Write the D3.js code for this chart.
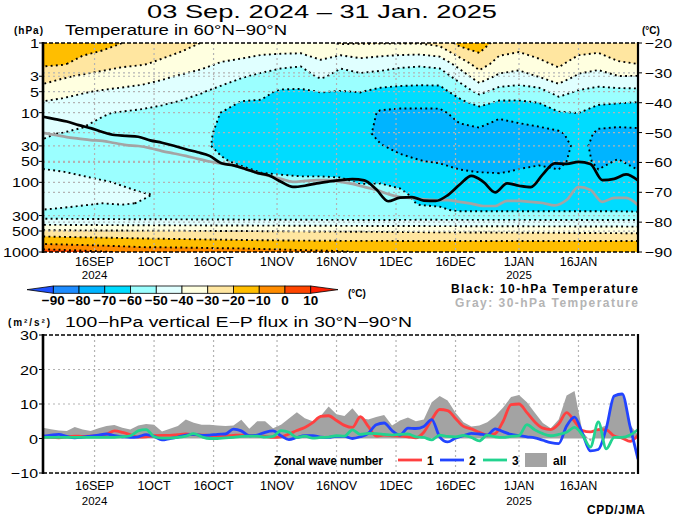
<!DOCTYPE html>
<meta charset="utf-8">
<head>
  <title>Temperature and E-P flux, 60N-90N</title>
</head>

<style>
body { margin: 0; background: white; }
text {
  font-family: "Liberation Sans", Arial, sans-serif;
  fill: black;
}
.num { font-size: 13px; }
.bold { font-weight: bold; }
.grid {
  fill: none;
  stroke: #b3b3b3;
  stroke-width: 1.2;
  stroke-dasharray: 2,3;
}
.iso {
  fill: none;
  stroke: black;
  stroke-width: 1.9;
  stroke-dasharray: 1.9,3.3;
}
</style>

<body>
  <svg width="680" height="521"></svg>

  <script src="https://cdnjs.cloudflare.com/ajax/libs/d3/7.8.5/d3.min.js"></script>
  <script>

// pressure levels of the temperature grid (hPa)
var levels = [1, 2, 3, 5, 7, 10, 20, 30, 50, 70, 100, 150, 200, 250, 300, 400, 500, 600, 700, 850, 1000];
// grid columns, days after 3 Sep 2024
var gridDays = [0, 5, 10, 15, 20, 25, 30, 35, 40, 45, 50, 55, 60, 65, 70, 75, 80, 85, 90, 95, 100, 105, 110, 115, 120, 125, 130, 135, 140, 145, 150];

// zonal mean temperature 60N-90N (deg C), one row per level
var tempGrid = [
  [-13,-14.5,-15.5,-16.5,-20,-23,-25,-26.5,-30.3,-32,-32.5,-33,-32,-31.5,-32,-29,-29.5,-29.5,-29.5,-29.5,-27,-17,-15,-24,-25.5,-23,-23,-23.5,-24.5,-21,-23.5],
  [-18.7,-19.3,-22.9,-26.3,-28.4,-29.4,-31.7,-35.2,-37.8,-40.9,-42.6,-45.3,-47.6,-48.8,-42,-47.8,-44,-46,-47.8,-48.6,-47,-36,-25.6,-33.8,-36,-32.4,-28.4,-34.7,-36.2,-31.4,-30],
  [-25.2,-28.7,-31.2,-32.9,-34.6,-36.1,-38.5,-40.9,-43,-46.2,-49.1,-51.8,-54.2,-54.6,-48.2,-53.6,-52.2,-53.1,-54.6,-55.5,-55.2,-45.9,-34.3,-41.8,-43.6,-39.5,-34.2,-41.4,-43.9,-40.2,-40.3],
  [-34.8,-37.2,-39.3,-40.9,-42,-43.2,-44.7,-46.8,-49.5,-52.5,-56.2,-58.2,-61,-61.2,-59.8,-60.3,-59.8,-62.4,-63.2,-63.2,-63.2,-56.1,-47.5,-53.6,-54.8,-53.7,-46.1,-51,-52.9,-53,-52.6],
  [-40.3,-41.6,-43.1,-44.4,-45.7,-46.9,-48.5,-50.7,-52.5,-56.3,-60.3,-60.5,-63,-64,-62.5,-62.5,-62,-66.6,-67.6,-67.7,-67.5,-62,-56.3,-61,-60.9,-59.5,-53.9,-54.6,-58,-59.3,-59.9],
  [-44.5,-45.8,-47.5,-49.5,-50.5,-51.5,-53.2,-55,-56.9,-60.2,-61.5,-63.5,-66,-67.5,-66.5,-65.8,-65.5,-71,-71.5,-71.5,-71.5,-67.4,-65,-68.5,-67.5,-65,-60.6,-59.8,-65,-64.5,-64.5],
  [-49.6,-50.2,-51,-52,-53,-54,-55.5,-57,-58.5,-61.2,-62.3,-64.5,-66.5,-67.5,-67,-67,-68,-71.5,-72.5,-73,-73.5,-72.5,-72,-73.5,-72.5,-72.5,-71.5,-66,-71.5,-72.5,-72],
  [-50.5,-51.2,-52.2,-52.8,-54,-54.7,-56.2,-57.5,-59.1,-61,-62,-63.8,-65.5,-66.4,-66,-66.5,-68,-69.6,-71.6,-72.2,-72.6,-73.2,-74.4,-74,-72.9,-73.4,-74,-67.5,-72.5,-73,-74.3],
  [-51.5,-52,-52.5,-53.5,-54.5,-55.5,-57,-58.5,-59.5,-59.5,-60.8,-62.3,-63,-63.5,-63.5,-64,-65.5,-66.5,-68.5,-69.8,-70.5,-72,-73.5,-73,-71.5,-71,-72,-67,-71.5,-69.5,-72],
  [-49.5,-50,-51,-52,-53.5,-54.5,-56,-57.5,-58.5,-58.5,-59,-60.2,-60.5,-60.8,-60.8,-61,-62.5,-63.5,-65.5,-67.5,-68,-69.5,-70.2,-70.5,-69.5,-68.5,-69.5,-66,-69.6,-67.5,-69.6],
  [-47.5,-48,-48.5,-49.5,-50.5,-52.5,-54,-55.5,-57,-57.5,-58,-58.5,-58.8,-59,-59,-59.2,-60.3,-60.2,-61.5,-64.5,-65,-66.5,-67,-67.2,-67,-66.5,-67,-65,-67,-66,-67],
  [-47,-47.5,-48,-48.5,-48.8,-49.5,-50.5,-52.5,-54,-55,-56,-56.5,-57,-57.2,-57.3,-57.5,-58,-58,-58.5,-62,-62.5,-64,-64.5,-64.5,-64.5,-64.5,-64.5,-63.5,-64.5,-64.3,-64.5],
  [-48.5,-49,-49.5,-50,-49.5,-50.3,-51,-52,-53,-54,-55,-55.5,-56,-56.2,-56.4,-56.5,-57,-57.3,-58,-60.5,-61,-62.5,-63,-63,-63,-63,-63,-62.3,-63,-62.8,-63],
  [-50.1,-50.5,-51,-51.5,-52,-52.5,-53,-53.5,-54,-54.5,-55,-55.5,-56,-56.2,-56.4,-56.5,-57,-57,-57.5,-58.5,-59,-61,-61,-61,-61,-61,-61,-61,-61,-61,-61.5],
  [-55,-55.2,-55.4,-55.6,-55.8,-56,-56,-56.2,-56.4,-56.5,-56.6,-56.7,-56.8,-56.9,-57,-57,-57.2,-57,-57,-56.5,-56.5,-56.5,-56.5,-56.5,-56.5,-56.5,-56.5,-56.5,-56.5,-56.5,-56.5],
  [-41,-41.2,-41.4,-41.5,-41.7,-41.8,-41.9,-42,-42.1,-42.2,-42.3,-42.4,-42.5,-42.6,-42.7,-42.8,-42.9,-43,-43,-43.1,-43.2,-43.3,-43.3,-43.4,-43.4,-43.5,-43.5,-43.6,-43.6,-43.7,-43.8],
  [-28.4,-28.6,-28.8,-29,-29.1,-29.3,-29.4,-29.6,-29.7,-29.9,-30,-30.2,-30.3,-30.4,-30.6,-30.7,-30.9,-31,-31.2,-31.3,-31.5,-31.6,-31.8,-31.9,-32,-32.2,-32.3,-32.4,-32.6,-32.7,-32.9],
  [-19.9,-20.4,-20.8,-21.2,-21.6,-22,-22.3,-22.6,-22.9,-23.2,-23.5,-23.7,-23.9,-24.1,-24.3,-24.5,-24.6,-24.7,-24.8,-24.9,-25,-25.1,-25.2,-25.2,-25.3,-25.4,-25.5,-25.6,-25.6,-25.7,-25.8],
  [-14.5,-15,-15.5,-16,-16.5,-17,-17.4,-17.8,-18.1,-18.4,-18.7,-19,-19.2,-19.4,-19.5,-19.6,-19.6,-19.6,-19.7,-19.7,-19.7,-19.7,-19.7,-19.7,-19.7,-19.7,-19.7,-19.7,-19.7,-19.7,-19.7],
  [-5,-6,-7,-8,-9,-10.1,-10.3,-10.6,-10.9,-11.2,-11.5,-12,-12.5,-13,-13.5,-14,-14.5,-15,-15.2,-15.4,-15.5,-15.6,-15.7,-15.8,-15.8,-15.9,-15.9,-16,-16,-16,-16],
  [6,4.5,3,1,-1,-2.5,-3.5,-4.5,-5.3,-5.8,-6,-6.8,-7.5,-8,-8.5,-9,-10.5,-11,-11.5,-12,-12.3,-12.5,-12.6,-12.7,-12.8,-12.9,-13,-13.1,-13.2,-13.3,-13.4]
];

var bandEdges = [-90, -80, -70, -60, -50, -40, -30, -20, -10, 0, 10];
var bandColors = ['#1e8cff', '#00b4ff', '#00dcff', '#9bffff', '#e0ffff', '#ffffe0', '#ffe6a0', '#ffbe00', '#ff8c00', '#ff4600'];
var lowColor = '#1e50ff', highColor = '#ff1e00';

// 10-hPa and 30-hPa temperature every 3 days (deg C)
var lineDays = d3.range(0, 151, 3);
var t10 = [-44.7,-45.5,-46.3,-47.5,-48.5,-49.8,-50.8,-51.1,-51.4,-52.6,-53.4,-54.4,-55.6,-56.6,-57.8,-60.3,-61.0,-62.2,-63.5,-64.4,-66.5,-68.2,-67.8,-67.0,-66.4,-65.9,-65.6,-66.0,-69.0,-73.0,-71.8,-71.6,-72.8,-72.9,-71.0,-67.5,-64.5,-66.5,-70.0,-67.0,-67.8,-68.3,-64.0,-60.3,-60.5,-59.8,-60.5,-65.9,-65.5,-64.0,-66.0];
var t30 = [-50.1,-50.8,-51.5,-52.0,-52.5,-52.8,-53.5,-54.2,-54.5,-55.2,-56.2,-57.0,-57.8,-58.8,-59.7,-60.4,-60.9,-62.2,-63.5,-64.5,-65.5,-66.5,-66.2,-65.9,-65.9,-66.5,-67.2,-68.2,-69.2,-70.6,-71.6,-71.9,-72.4,-72.6,-72.6,-73.2,-73.8,-74.6,-74.6,-72.9,-72.9,-73.2,-73.6,-74.4,-72.6,-68.2,-69.2,-73.2,-71.9,-71.9,-74.3];

// 100-hPa vertical E-P flux every 2 days (m2/s2)
var fluxDays = d3.range(0, 151, 2);
var fluxAll = [3.1,2.7,2.3,2.2,3.3,2.6,2.2,3.0,3.6,3.9,
  3.1,2.6,3.8,4.2,4.0,2.0,2.8,3.6,5.5,4.6,
  4.0,4.0,3.8,3.6,3.8,5.4,2.8,5.0,5.0,3.0,
  4.0,5.8,7.6,5.9,5.0,6.5,9.3,7.0,6.5,8.8,
  6.0,5.5,6.2,6.8,3.8,5.2,6.1,5.0,5.5,10.5,
  12.3,11.0,7.5,4.7,3.5,3.8,4.7,6.5,9.0,12.0,
  12.6,10.5,7.5,4.5,3.0,5.5,12.5,13.8,2.0,-0.8,
  3.0,3.8,12.0,13.0,4.0,1.0];
var fluxW1 = [0.5,0.3,0.2,0.5,0.7,0.6,0.7,0.8,1.2,2.2,
  1.8,1.1,0.4,0.5,0.8,0.9,0.9,1.1,1.3,1.1,
  1.0,0.9,0.8,0.8,0.9,1.0,0.9,0.8,0.6,0.3,
  0.5,1.3,2.3,3.2,4.6,6.4,6.6,5.2,3.8,3.2,
  6.3,3.5,0.7,1.0,0.8,0.7,0.5,0.2,1.8,5.5,
  8.4,8.1,5.8,3.5,2.8,1.8,1.0,1.4,5.0,9.8,
  10.0,7.5,4.8,3.0,2.6,4.2,7.5,5.0,2.3,1.9,
  2.6,2.5,0.7,0.1,-0.8,1.0];
var fluxW2 = [0.7,1.0,1.2,0.6,0.2,0.4,0.7,1.0,1.3,0.8,
  0.5,0.3,0.5,1.1,0.6,-0.4,0.0,0.4,1.0,1.2,
  0.9,1.0,1.2,1.3,2.7,2.2,0.8,1.0,1.8,2.2,
  0.8,-0.3,0.3,0.8,0.8,0.4,0.3,0.6,0.6,0.0,
  0.5,1.5,4.0,4.5,2.3,1.0,3.0,2.9,3.5,5.5,
  0.5,-1.0,0.1,0.8,1.5,1.3,1.0,2.8,2.0,1.2,
  0.8,0.5,0.2,-0.5,-1.2,-1.5,3.6,6.2,1.5,-3.6,
  -3.2,3.0,12.3,12.9,3.5,-6.0];
var fluxW3 = [0.3,0.3,0.3,0.3,0.3,0.3,0.3,0.3,0.3,0.3,
  0.5,0.8,2.2,2.6,0.5,0.1,0.1,0.3,0.7,1.4,
  0.5,0.0,0.0,0.2,0.3,0.6,0.7,0.7,0.4,0.6,
  2.3,1.8,0.3,0.7,0.1,0.3,0.4,0.8,0.7,2.5,
  1.2,1.5,1.4,1.2,1.0,1.2,1.3,0.5,0.3,-0.4,
  1.0,0.6,0.5,0.9,0.3,-0.7,1.0,0.5,0.3,0.6,
  0.8,4.0,2.5,1.4,0.8,1.2,1.8,3.2,1.0,-2.5,
  4.8,-3.0,0.3,0.3,1.0,2.6];

var tickDates = ['2024-09-16','2024-10-01','2024-10-16','2024-11-01','2024-11-16','2024-12-01','2024-12-16','2025-01-01','2025-01-16'];
var tickNames = ['16SEP','1OCT','16OCT','1NOV','16NOV','1DEC','16DEC','1JAN','16JAN'];
var yearNames = ['2024','','','','','','','2025',''];
var pTicks = [1, 3, 5, 10, 30, 50, 100, 300, 500, 1000];
var tTicks = [-20, -30, -40, -50, -60, -70, -80, -90];
var fTicks = [30, 20, 10, 0, -10];

var svg = d3.select('svg');
var parse = d3.timeParse('%Y-%m-%d');
var start = parse('2024-09-03'), end = parse('2025-01-31');

var x = d3.scaleTime().domain([start, end]).range([43, 638]);
var yP = d3.scaleLog().domain([1, 1000]).range([43, 252]);
var yT = d3.scaleLinear().domain([-20, -90]).range([43, 252]);
var yF = d3.scaleLinear().domain([30, -10]).range([335, 473]);

function dayX(d) { return x(d3.timeDay.offset(start, d)); }
function minus(v) { return v < 0 ? '\u2212' + Math.abs(v) : String(v); }

// axis number in the wide plotting font
function axisNum(xx, yy, s, anchor) {
  svg.append('text').attr('class', 'num').attr('x', xx).attr('y', yy)
    .attr('text-anchor', anchor)
    .attr('textLength', s.length * 9).attr('lengthAdjust', 'spacingAndGlyphs')
    .style('font-size', '13.5px').text(s);
}

var defs = svg.append('defs');
defs.append('clipPath').attr('id', 'clipTop').append('rect')
  .attr('x', 43).attr('y', 43).attr('width', 595).attr('height', 209);
defs.append('clipPath').attr('id', 'clipBot').append('rect')
  .attr('x', 43).attr('y', 335).attr('width', 595).attr('height', 138);

// ---------- titles ----------
svg.append('text').attr('x', 147).attr('y', 17.5)
  .attr('textLength', 350).attr('lengthAdjust', 'spacingAndGlyphs')
  .style('font-size', '19px')
  .text('03 Sep. 2024 \u2013 31 Jan. 2025');
svg.append('text').attr('x', 14).attr('y', 34).attr('class', 'bold')
  .attr('textLength', 29).style('font-size', '10px').text('(hPa)');
svg.append('text').attr('x', 65).attr('y', 35)
  .attr('textLength', 222).attr('lengthAdjust', 'spacingAndGlyphs')
  .style('font-size', '14px').text('Temperature in 60\u00b0N\u221290\u00b0N');
svg.append('text').attr('x', 642).attr('y', 34).attr('class', 'bold')
  .style('font-size', '10px').text('(\u00b0C)');

// ---------- temperature contours ----------
var nx = gridDays.length, ny = levels.length;
var flat = [];
tempGrid.forEach(function(row) { row.forEach(function(v) { flat.push(v); }); });

var gx = d3.scaleLinear().domain(d3.range(nx)).range(gridDays.map(dayX));
var gy = d3.scaleLinear().domain(d3.range(ny)).range(levels.map(function(p) { return yP(p); }));
var path = d3.geoPath(d3.geoTransform({
  point: function(px, py) { this.stream.point(gx(px - 0.5), gy(py - 0.5)); }
}));

var iso = d3.contours().size([nx, ny]).thresholds(bandEdges)(flat);
var lo = d3.min(flat), hi = d3.max(flat);

var gTop = svg.append('g').attr('clip-path', 'url(#clipTop)');
gTop.selectAll('path.band')
  .data(iso)
  .enter()
  .append('path')
  .attr('class', 'band')
  .attr('d', path)
  .attr('fill', function(d, i) { return bandColors[i] || highColor; });

gTop.selectAll('path.iso')
  .data(iso.filter(function(c) { return c.value > lo && c.value <= hi; }))
  .enter()
  .append('path')
  .attr('class', 'iso')
  .attr('d', path);

// grid
tickDates.forEach(function(s) {
  var xx = x(parse(s));
  gTop.append('line').attr('class', 'grid').attr('x1', xx).attr('x2', xx).attr('y1', 43).attr('y2', 252);
});
pTicks.slice(1, -1).forEach(function(p) {
  gTop.append('line').attr('class', 'grid').attr('x1', 43).attr('x2', 638).attr('y1', yP(p)).attr('y2', yP(p));
});
tTicks.slice(1, -1).forEach(function(t) {
  gTop.append('line').attr('class', 'grid').attr('x1', 43).attr('x2', 638).attr('y1', yT(t)).attr('y2', yT(t));
});

// 10 hPa and 30 hPa temperatures
var tLine = d3.line()
  .x(function(d, i) { return dayX(lineDays[i]); })
  .y(function(d) { return yT(d); })
  .curve(d3.curveMonotoneX);
gTop.append('path').attr('d', tLine(t30)).attr('fill', 'none')
  .attr('stroke', '#a4a4a4').attr('stroke-width', 2.7);
gTop.append('path').attr('d', tLine(t10)).attr('fill', 'none')
  .attr('stroke', 'black').attr('stroke-width', 2.7);

// frame of upper panel
svg.append('line').attr('x1', 43).attr('x2', 638).attr('y1', 43).attr('y2', 43)
  .attr('stroke', 'black').attr('stroke-width', 1.5).attr('stroke-dasharray', '4,2');
svg.append('line').attr('x1', 43).attr('x2', 638).attr('y1', 252).attr('y2', 252)
  .attr('stroke', 'black').attr('stroke-width', 1.5).attr('stroke-dasharray', '4,2');
svg.append('line').attr('x1', 43).attr('x2', 43).attr('y1', 42).attr('y2', 253)
  .attr('stroke', 'black').attr('stroke-width', 2.6);
svg.append('line').attr('x1', 638).attr('x2', 638).attr('y1', 42).attr('y2', 253)
  .attr('stroke', 'black').attr('stroke-width', 2.2);

pTicks.forEach(function(p) {
  svg.append('line').attr('x1', 39).attr('x2', 43).attr('y1', yP(p)).attr('y2', yP(p)).attr('stroke', 'black');
  axisNum(39, yP(p) + 5, String(p), 'end');
});
tTicks.forEach(function(t) {
  svg.append('line').attr('x1', 638).attr('x2', 642).attr('y1', yT(t)).attr('y2', yT(t)).attr('stroke', 'black');
  axisNum(645, yT(t) + 5, minus(t), 'start');
});

function dateLabels(y1, y2) {
  tickDates.forEach(function(s, i) {
    var xx = x(parse(s));
    svg.append('text').attr('class', 'num').attr('x', xx).attr('y', y1)
      .attr('text-anchor', 'middle').style('font-size', '12.5px').text(tickNames[i]);
    if (yearNames[i]) {
      svg.append('text').attr('class', 'num').attr('x', xx).attr('y', y2)
        .attr('text-anchor', 'middle').style('font-size', '11.5px').text(yearNames[i]);
    }
  });
}
dateLabels(265.5, 279.4);

// ---------- colour bar ----------
var cb = d3.scaleLinear().domain([-90, 10]).range([53.3, 310.7]);
var cbY = 286, cbH = 7.3;
bandColors.forEach(function(c, i) {
  svg.append('rect')
    .attr('x', cb(bandEdges[i])).attr('y', cbY)
    .attr('width', cb(bandEdges[i + 1]) - cb(bandEdges[i])).attr('height', cbH)
    .attr('fill', c).attr('stroke', 'black').attr('stroke-width', 0.8);
});
svg.append('path')
  .attr('d', 'M' + cb(-90) + ',' + cbY + 'L27,' + (cbY + cbH / 2) + 'L' + cb(-90) + ',' + (cbY + cbH) + 'Z')
  .attr('fill', lowColor).attr('stroke', 'black').attr('stroke-width', 0.8);
svg.append('path')
  .attr('d', 'M' + cb(10) + ',' + cbY + 'L338,' + (cbY + cbH / 2) + 'L' + cb(10) + ',' + (cbY + cbH) + 'Z')
  .attr('fill', highColor).attr('stroke', 'black').attr('stroke-width', 0.8);
bandEdges.forEach(function(v) {
  svg.append('text').attr('class', 'bold').attr('x', cb(v)).attr('y', 305)
    .attr('text-anchor', 'middle').style('font-size', '13.5px').text(minus(v));
});
svg.append('text').attr('class', 'bold').attr('x', 348).attr('y', 297)
  .style('font-size', '10px').text('(\u00b0C)');

svg.append('text').attr('class', 'bold').attr('x', 638).attr('y', 293)
  .attr('text-anchor', 'end').attr('textLength', 187)
  .style('font-size', '12px').text('Black: 10-hPa Temperature');
svg.append('text').attr('class', 'bold').attr('x', 638).attr('y', 306.5)
  .attr('text-anchor', 'end').attr('textLength', 183)
  .style('font-size', '12px').style('fill', '#b4b4b4').text('Gray: 30-hPa Temperature');

// ---------- E-P flux panel ----------
svg.append('text').attr('x', 8).attr('y', 326).attr('class', 'bold')
  .attr('textLength', 42).style('font-size', '10px').text('(m\u00b2/s\u00b2)');
svg.append('text').attr('x', 65).attr('y', 327)
  .attr('textLength', 347).attr('lengthAdjust', 'spacingAndGlyphs')
  .style('font-size', '14px').text('100\u2212hPa vertical E\u2212P flux in 30\u00b0N\u221290\u00b0N');

var gBot = svg.append('g').attr('clip-path', 'url(#clipBot)');
tickDates.forEach(function(s) {
  var xx = x(parse(s));
  gBot.append('line').attr('class', 'grid').attr('x1', xx).attr('x2', xx).attr('y1', 335).attr('y2', 473);
});
[20, 10].forEach(function(v) {
  gBot.append('line').attr('class', 'grid').attr('x1', 43).attr('x2', 638).attr('y1', yF(v)).attr('y2', yF(v));
});

var fx = function(d, i) { return dayX(fluxDays[i]); };
gBot.append('path')
  .attr('d', d3.area().x(fx).y0(yF(0)).y1(function(d) { return yF(d); })(fluxAll))
  .attr('fill', '#a3a3a3');

var fLine = d3.line().x(fx).y(function(d) { return yF(d); }).curve(d3.curveMonotoneX);
[[fluxW1, '#ff4040'], [fluxW2, '#2244ff'], [fluxW3, '#22d38f']].forEach(function(s) {
  gBot.append('path').attr('d', fLine(s[0])).attr('fill', 'none')
    .attr('stroke', s[1]).attr('stroke-width', 2.8);
});

// legend inside panel
svg.append('text').attr('class', 'bold').attr('x', 274).attr('y', 465)
  .attr('textLength', 109).style('font-size', '12px').text('Zonal wave number');
[[398, '#ff4040', '1'], [440, '#2244ff', '2'], [483, '#22d38f', '3']].forEach(function(l) {
  svg.append('line').attr('x1', l[0]).attr('x2', l[0] + 24).attr('y1', 460).attr('y2', 460)
    .attr('stroke', l[1]).attr('stroke-width', 2.8);
  svg.append('text').attr('class', 'bold').attr('x', l[0] + 29).attr('y', 465)
    .style('font-size', '12px').text(l[2]);
});
svg.append('rect').attr('x', 525).attr('y', 453).attr('width', 22).attr('height', 14).attr('fill', '#a3a3a3');
svg.append('text').attr('class', 'bold').attr('x', 553).attr('y', 465)
  .style('font-size', '12px').text('all');

// frame of lower panel
svg.append('line').attr('x1', 43).attr('x2', 638).attr('y1', 335).attr('y2', 335)
  .attr('stroke', 'black').attr('stroke-width', 1.5).attr('stroke-dasharray', '4,2');
svg.append('line').attr('x1', 43).attr('x2', 638).attr('y1', 473).attr('y2', 473)
  .attr('stroke', 'black').attr('stroke-width', 1.5).attr('stroke-dasharray', '4,2');
svg.append('line').attr('x1', 43).attr('x2', 43).attr('y1', 334).attr('y2', 474)
  .attr('stroke', 'black').attr('stroke-width', 2.6);
svg.append('line').attr('x1', 638).attr('x2', 638).attr('y1', 334).attr('y2', 474)
  .attr('stroke', 'black').attr('stroke-width', 2.2);
fTicks.forEach(function(v) {
  svg.append('line').attr('x1', 39).attr('x2', 43).attr('y1', yF(v)).attr('y2', yF(v)).attr('stroke', 'black');
  axisNum(38, yF(v) + 5, minus(v), 'end');
});
dateLabels(490, 504.5);

svg.append('text').attr('class', 'bold').attr('x', 587).attr('y', 514)
  .attr('textLength', 58).style('font-size', '12px').text('CPD/JMA');

  </script>
</body>
</html>
